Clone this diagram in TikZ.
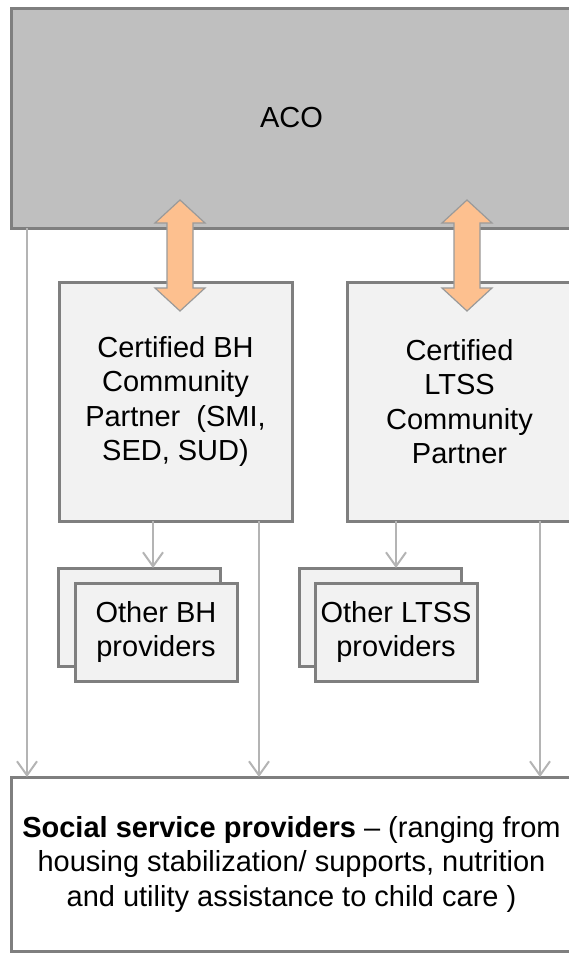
\documentclass[tikz,border=0pt]{standalone}
\usepackage{fontspec}
\setmainfont{Liberation Sans}
\usepackage{tikz}
\usetikzlibrary{arrows.meta,positioning,calc}
\definecolor{boxline}{HTML}{7F7F7F}
\definecolor{acofill}{HTML}{BFBFBF}
\definecolor{partnerfill}{HTML}{F2F2F2}
\definecolor{linkgray}{HTML}{B4B4B4}
\definecolor{peach}{HTML}{FDC08F}
\definecolor{peachline}{HTML}{9A9A9A}
\tikzset{
    basebox/.style={draw=boxline,line width=3pt,inner sep=0pt,outer sep=0pt,
      anchor=north west,align=center,font=\fontsize{29}{34.5}\selectfont},
    acobox/.style={basebox,fill=acofill},
    partnerbox/.style={basebox,fill=partnerfill},
    providerbox/.style={partnerbox,minimum width=162pt,minimum height=98pt},
    socialbox/.style={basebox,fill=white},
    link/.style={draw=linkgray,line width=2pt,
      -{Straight Barb[length=14pt,width=20pt]}},
    dblarrow/.style={draw=peachline,fill=peach,line width=1.2pt,line join=miter}
}
\begin{document}
\begin{tikzpicture}[x=1pt,y=-1pt]
    \clip (0,0) rectangle (569,953);
    % boxes (right edges run past the page)
    \node[acobox,minimum width=561pt,minimum height=220pt] (aco) at (11,8) {ACO};
    \node[partnerbox,minimum width=233pt,minimum height=239pt] (bh) at (59,282)
        {Certified BH\\Community\\Partner\ \ (SMI,\\SED, SUD)};
    \node[partnerbox,minimum width=225pt,minimum height=239pt] (ltss) at (347,282)
        {Certified\\LTSS\\Community\\Partner};
    \node[providerbox] (bhback) at (58,568) {};
    \node[providerbox,below right=15pt and 17pt of bhback.north west] (bhfront)
        {Other BH\\providers};
    \node[providerbox] (ltssback) at (299,568) {};
    \node[providerbox,below right=15pt and 16pt of ltssback.north west] (ltssfront)
        {Other LTSS\\providers};
    \node[socialbox,minimum width=561pt,minimum height=174pt] (social) at (11,777)
        {\textbf{Social service providers} -- (ranging from\\
         housing stabilization/ supports, nutrition\\
         and utility assistance to child care )};
    % where the links run
    \coordinate (leftx) at (27,0);
    \coordinate (midx) at (259,0);
    \coordinate (rightx) at (540,0);
    \coordinate (bhx) at (153,0);
    \coordinate (ltssx) at (396,0);
    \coordinate (bhlink) at (180,0);
    \coordinate (ltsslink) at (467,0);
    \draw[link] (aco.south -| leftx) -- (social.north -| leftx);
    \draw[link] (bh.south -| midx) -- (social.north -| midx);
    \draw[link] (ltss.south -| rightx) -- (social.north -| rightx);
    \draw[link] (bh.south -| bhx) -- (bhback.north -| bhx);
    \draw[link] (ltss.south -| ltssx) -- (ltssback.north -| ltssx);
    % two-way arrows between ACO and the partners
    \foreach \lk in {bhlink,ltsslink}
        \draw[dblarrow] ($(aco.south -| \lk)+(0,-28)$) -- ++(25,23) -- ++(-12,0)
            -- ++(0,65) -- ++(12,0) -- ++(-25,23) -- ++(-25,-23) -- ++(12,0)
            -- ++(0,-65) -- ++(-12,0) -- cycle;
\end{tikzpicture}
\end{document}
